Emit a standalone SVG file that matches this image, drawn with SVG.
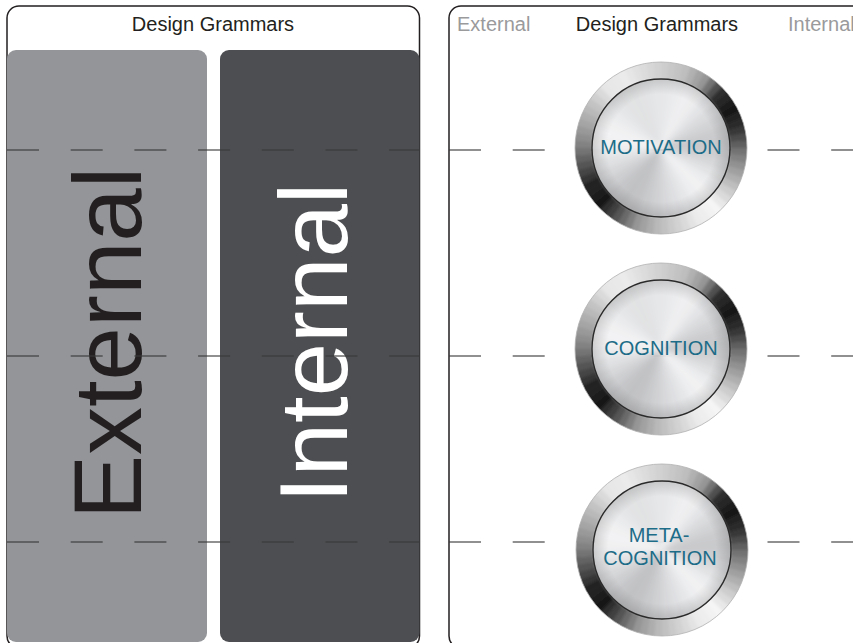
<svg xmlns="http://www.w3.org/2000/svg" width="853" height="643" viewBox="0 0 853 643">
<defs>
<style>
.hdr{font-family:"Liberation Sans",Arial,sans-serif;font-size:20px;fill:#231f20;text-anchor:middle}
.hdrg{font-family:"Liberation Sans",Arial,sans-serif;font-size:20px;fill:#9a9a9c}
.big{font-family:"Liberation Sans",Arial,sans-serif;font-size:96px;text-anchor:middle}
.lbl{font-family:"Liberation Sans",Arial,sans-serif;font-size:20px;fill:#1d6c88;text-anchor:middle}
.panel{fill:#fff;stroke:#231f20;stroke-width:1.5}
.dash{stroke:#3a3a3a;stroke-opacity:0.75;stroke-width:1.3;stroke-dasharray:32 31.7;fill:none}
.rs{fill:none;stroke-width:22;stroke-dasharray:7.6 490}
.fs{fill:none;stroke-width:72;stroke-dasharray:7 220}
.edge{fill:none;stroke:#2a2a2a;stroke-width:1.4}
.outer{fill:none;stroke:#b0b0b0;stroke-width:0.8}
</style>
<filter id="softR" x="-20%" y="-20%" width="140%" height="140%"><feGaussianBlur stdDeviation="1.6"/></filter>
<filter id="softF" x="-20%" y="-20%" width="140%" height="140%"><feGaussianBlur stdDeviation="2.6"/></filter>
<clipPath id="c86"><circle r="86"/></clipPath>
<clipPath id="c69"><circle r="69"/></clipPath>
<radialGradient id="shade" cx="0.5" cy="0.5" r="0.5">
<stop offset="0.78" stop-color="#000" stop-opacity="0"/>
<stop offset="1" stop-color="#000" stop-opacity="0.14"/>
</radialGradient>
<g id="ring">
<g clip-path="url(#c86)"><g filter="url(#softR)">
<circle class="rs" r="79" stroke="#cdcdcd" transform="rotate(-90)"/>
<circle class="rs" r="79" stroke="#c8c8c8" transform="rotate(-85)"/>
<circle class="rs" r="79" stroke="#c3c3c3" transform="rotate(-80)"/>
<circle class="rs" r="79" stroke="#bebebe" transform="rotate(-75)"/>
<circle class="rs" r="79" stroke="#b1b1b1" transform="rotate(-70)"/>
<circle class="rs" r="79" stroke="#a3a3a3" transform="rotate(-65)"/>
<circle class="rs" r="79" stroke="#969696" transform="rotate(-60)"/>
<circle class="rs" r="79" stroke="#737373" transform="rotate(-55)"/>
<circle class="rs" r="79" stroke="#505050" transform="rotate(-50)"/>
<circle class="rs" r="79" stroke="#2d2d2d" transform="rotate(-45)"/>
<circle class="rs" r="79" stroke="#252525" transform="rotate(-40)"/>
<circle class="rs" r="79" stroke="#1c1c1c" transform="rotate(-35)"/>
<circle class="rs" r="79" stroke="#141414" transform="rotate(-30)"/>
<circle class="rs" r="79" stroke="#202020" transform="rotate(-25)"/>
<circle class="rs" r="79" stroke="#2b2b2b" transform="rotate(-20)"/>
<circle class="rs" r="79" stroke="#373737" transform="rotate(-15)"/>
<circle class="rs" r="79" stroke="#4b4b4b" transform="rotate(-10)"/>
<circle class="rs" r="79" stroke="#5f5f5f" transform="rotate(-5)"/>
<circle class="rs" r="79" stroke="#737373" transform="rotate(0)"/>
<circle class="rs" r="79" stroke="#828282" transform="rotate(5)"/>
<circle class="rs" r="79" stroke="#919191" transform="rotate(10)"/>
<circle class="rs" r="79" stroke="#a0a0a0" transform="rotate(15)"/>
<circle class="rs" r="79" stroke="#afafaf" transform="rotate(20)"/>
<circle class="rs" r="79" stroke="#bebebe" transform="rotate(25)"/>
<circle class="rs" r="79" stroke="#cdcdcd" transform="rotate(30)"/>
<circle class="rs" r="79" stroke="#dadada" transform="rotate(35)"/>
<circle class="rs" r="79" stroke="#e8e8e8" transform="rotate(40)"/>
<circle class="rs" r="79" stroke="#f5f5f5" transform="rotate(45)"/>
<circle class="rs" r="79" stroke="#f2f2f2" transform="rotate(50)"/>
<circle class="rs" r="79" stroke="#eeeeee" transform="rotate(55)"/>
<circle class="rs" r="79" stroke="#ebebeb" transform="rotate(60)"/>
<circle class="rs" r="79" stroke="#e3e3e3" transform="rotate(65)"/>
<circle class="rs" r="79" stroke="#dadada" transform="rotate(70)"/>
<circle class="rs" r="79" stroke="#d2d2d2" transform="rotate(75)"/>
<circle class="rs" r="79" stroke="#cacaca" transform="rotate(80)"/>
<circle class="rs" r="79" stroke="#c1c1c1" transform="rotate(85)"/>
<circle class="rs" r="79" stroke="#b9b9b9" transform="rotate(90)"/>
<circle class="rs" r="79" stroke="#adadad" transform="rotate(95)"/>
<circle class="rs" r="79" stroke="#a2a2a2" transform="rotate(100)"/>
<circle class="rs" r="79" stroke="#969696" transform="rotate(105)"/>
<circle class="rs" r="79" stroke="#808080" transform="rotate(110)"/>
<circle class="rs" r="79" stroke="#6b6b6b" transform="rotate(115)"/>
<circle class="rs" r="79" stroke="#555555" transform="rotate(120)"/>
<circle class="rs" r="79" stroke="#414141" transform="rotate(125)"/>
<circle class="rs" r="79" stroke="#2d2d2d" transform="rotate(130)"/>
<circle class="rs" r="79" stroke="#191919" transform="rotate(135)"/>
<circle class="rs" r="79" stroke="#1c1c1c" transform="rotate(140)"/>
<circle class="rs" r="79" stroke="#202020" transform="rotate(145)"/>
<circle class="rs" r="79" stroke="#232323" transform="rotate(150)"/>
<circle class="rs" r="79" stroke="#343434" transform="rotate(155)"/>
<circle class="rs" r="79" stroke="#444444" transform="rotate(160)"/>
<circle class="rs" r="79" stroke="#555555" transform="rotate(165)"/>
<circle class="rs" r="79" stroke="#646464" transform="rotate(170)"/>
<circle class="rs" r="79" stroke="#737373" transform="rotate(175)"/>
<circle class="rs" r="79" stroke="#828282" transform="rotate(180)"/>
<circle class="rs" r="79" stroke="#8e8e8e" transform="rotate(185)"/>
<circle class="rs" r="79" stroke="#999999" transform="rotate(190)"/>
<circle class="rs" r="79" stroke="#a5a5a5" transform="rotate(195)"/>
<circle class="rs" r="79" stroke="#afafaf" transform="rotate(200)"/>
<circle class="rs" r="79" stroke="#b9b9b9" transform="rotate(205)"/>
<circle class="rs" r="79" stroke="#c3c3c3" transform="rotate(210)"/>
<circle class="rs" r="79" stroke="#cfcfcf" transform="rotate(215)"/>
<circle class="rs" r="79" stroke="#dadada" transform="rotate(220)"/>
<circle class="rs" r="79" stroke="#e6e6e6" transform="rotate(225)"/>
<circle class="rs" r="79" stroke="#e8e8e8" transform="rotate(230)"/>
<circle class="rs" r="79" stroke="#e9e9e9" transform="rotate(235)"/>
<circle class="rs" r="79" stroke="#ebebeb" transform="rotate(240)"/>
<circle class="rs" r="79" stroke="#e6e6e6" transform="rotate(245)"/>
<circle class="rs" r="79" stroke="#e1e1e1" transform="rotate(250)"/>
<circle class="rs" r="79" stroke="#dcdcdc" transform="rotate(255)"/>
<circle class="rs" r="79" stroke="#d7d7d7" transform="rotate(260)"/>
<circle class="rs" r="79" stroke="#d2d2d2" transform="rotate(265)"/>
</g></g>
<circle r="86" class="outer"/>
</g>
<g id="face">
<g clip-path="url(#c69)"><g filter="url(#softF)">
<circle class="fs" r="36" stroke="#e1e2e4" transform="rotate(-90)"/>
<circle class="fs" r="36" stroke="#e6e7e9" transform="rotate(-80)"/>
<circle class="fs" r="36" stroke="#ebebed" transform="rotate(-70)"/>
<circle class="fs" r="36" stroke="#e8e8ea" transform="rotate(-60)"/>
<circle class="fs" r="36" stroke="#dcdde0" transform="rotate(-50)"/>
<circle class="fs" r="36" stroke="#d0d1d4" transform="rotate(-40)"/>
<circle class="fs" r="36" stroke="#c6c7ca" transform="rotate(-30)"/>
<circle class="fs" r="36" stroke="#bdbec1" transform="rotate(-20)"/>
<circle class="fs" r="36" stroke="#b9babd" transform="rotate(-10)"/>
<circle class="fs" r="36" stroke="#bfc0c3" transform="rotate(0)"/>
<circle class="fs" r="36" stroke="#cbcccf" transform="rotate(10)"/>
<circle class="fs" r="36" stroke="#d9dadc" transform="rotate(20)"/>
<circle class="fs" r="36" stroke="#e6e7e9" transform="rotate(30)"/>
<circle class="fs" r="36" stroke="#eeeef0" transform="rotate(40)"/>
<circle class="fs" r="36" stroke="#e8e9eb" transform="rotate(50)"/>
<circle class="fs" r="36" stroke="#dfe0e2" transform="rotate(60)"/>
<circle class="fs" r="36" stroke="#d6d7da" transform="rotate(70)"/>
<circle class="fs" r="36" stroke="#cdced1" transform="rotate(80)"/>
<circle class="fs" r="36" stroke="#c3c4c7" transform="rotate(90)"/>
<circle class="fs" r="36" stroke="#babbbe" transform="rotate(100)"/>
<circle class="fs" r="36" stroke="#b2b3b6" transform="rotate(110)"/>
<circle class="fs" r="36" stroke="#afb0b3" transform="rotate(120)"/>
<circle class="fs" r="36" stroke="#b5b6b9" transform="rotate(130)"/>
<circle class="fs" r="36" stroke="#c0c1c4" transform="rotate(140)"/>
<circle class="fs" r="36" stroke="#cccdd0" transform="rotate(150)"/>
<circle class="fs" r="36" stroke="#d8d9db" transform="rotate(160)"/>
<circle class="fs" r="36" stroke="#e3e4e6" transform="rotate(170)"/>
<circle class="fs" r="36" stroke="#ececee" transform="rotate(180)"/>
<circle class="fs" r="36" stroke="#f0f0f2" transform="rotate(190)"/>
<circle class="fs" r="36" stroke="#ececee" transform="rotate(200)"/>
<circle class="fs" r="36" stroke="#e5e6e8" transform="rotate(210)"/>
<circle class="fs" r="36" stroke="#dedfe1" transform="rotate(220)"/>
<circle class="fs" r="36" stroke="#dadbdd" transform="rotate(230)"/>
<circle class="fs" r="36" stroke="#d9dadc" transform="rotate(240)"/>
<circle class="fs" r="36" stroke="#dcdddf" transform="rotate(250)"/>
<circle class="fs" r="36" stroke="#dfe0e2" transform="rotate(260)"/>
</g></g>
<circle r="69" fill="#ffffff" fill-opacity="0.22"/>
<circle r="69" fill="url(#shade)"/>
<circle r="69" class="edge"/>
</g>
</defs>

<g id="left-panel">
<rect class="panel" x="7" y="6" width="412.5" height="642" rx="12"/>
<text class="hdr" x="213" y="31">Design Grammars</text>
</g>

<g id="external-column">
<rect x="7" y="50" width="200" height="592" rx="9" fill="#939598"/>
<text class="big" fill="#231f20" transform="translate(140.5,343) rotate(-90)">External</text>
</g>

<g id="internal-column">
<rect x="220" y="50" width="199.5" height="592" rx="9" fill="#4d4e51"/>
<text class="big" fill="#ffffff" transform="translate(346.5,343) rotate(-90)">Internal</text>
</g>

<g id="right-panel">
<rect class="panel" x="449" y="6" width="420" height="642" rx="12"/>
<text class="hdrg" x="457" y="31">External</text>
<text class="hdr" x="657" y="31">Design Grammars</text>
<text class="hdrg" x="788" y="31">Internal</text>
</g>

<g id="connectors">
<line class="dash" x1="7" y1="150" x2="419" y2="150"/>
<line class="dash" x1="7" y1="356" x2="419" y2="356"/>
<line class="dash" x1="7" y1="542" x2="419" y2="542"/>
<line class="dash" x1="449" y1="150" x2="853" y2="150"/>
<line class="dash" x1="449" y1="356" x2="853" y2="356"/>
<line class="dash" x1="449" y1="542" x2="853" y2="542"/>
</g>

<g id="motivation">
<use href="#ring" x="661" y="148"/>
<use href="#face" x="661" y="148"/>
<text class="lbl" x="661" y="154">MOTIVATION</text>
</g>

<g id="cognition">
<use href="#ring" x="661" y="349"/>
<use href="#face" x="661" y="349"/>
<text class="lbl" x="661" y="355">COGNITION</text>
</g>

<g id="meta-cognition">
<use href="#ring" x="662" y="550"/>
<use href="#face" x="662" y="550"/>
<text class="lbl" x="659" y="542">META-</text>
<text class="lbl" x="660" y="565">COGNITION</text>
</g>
</svg>
